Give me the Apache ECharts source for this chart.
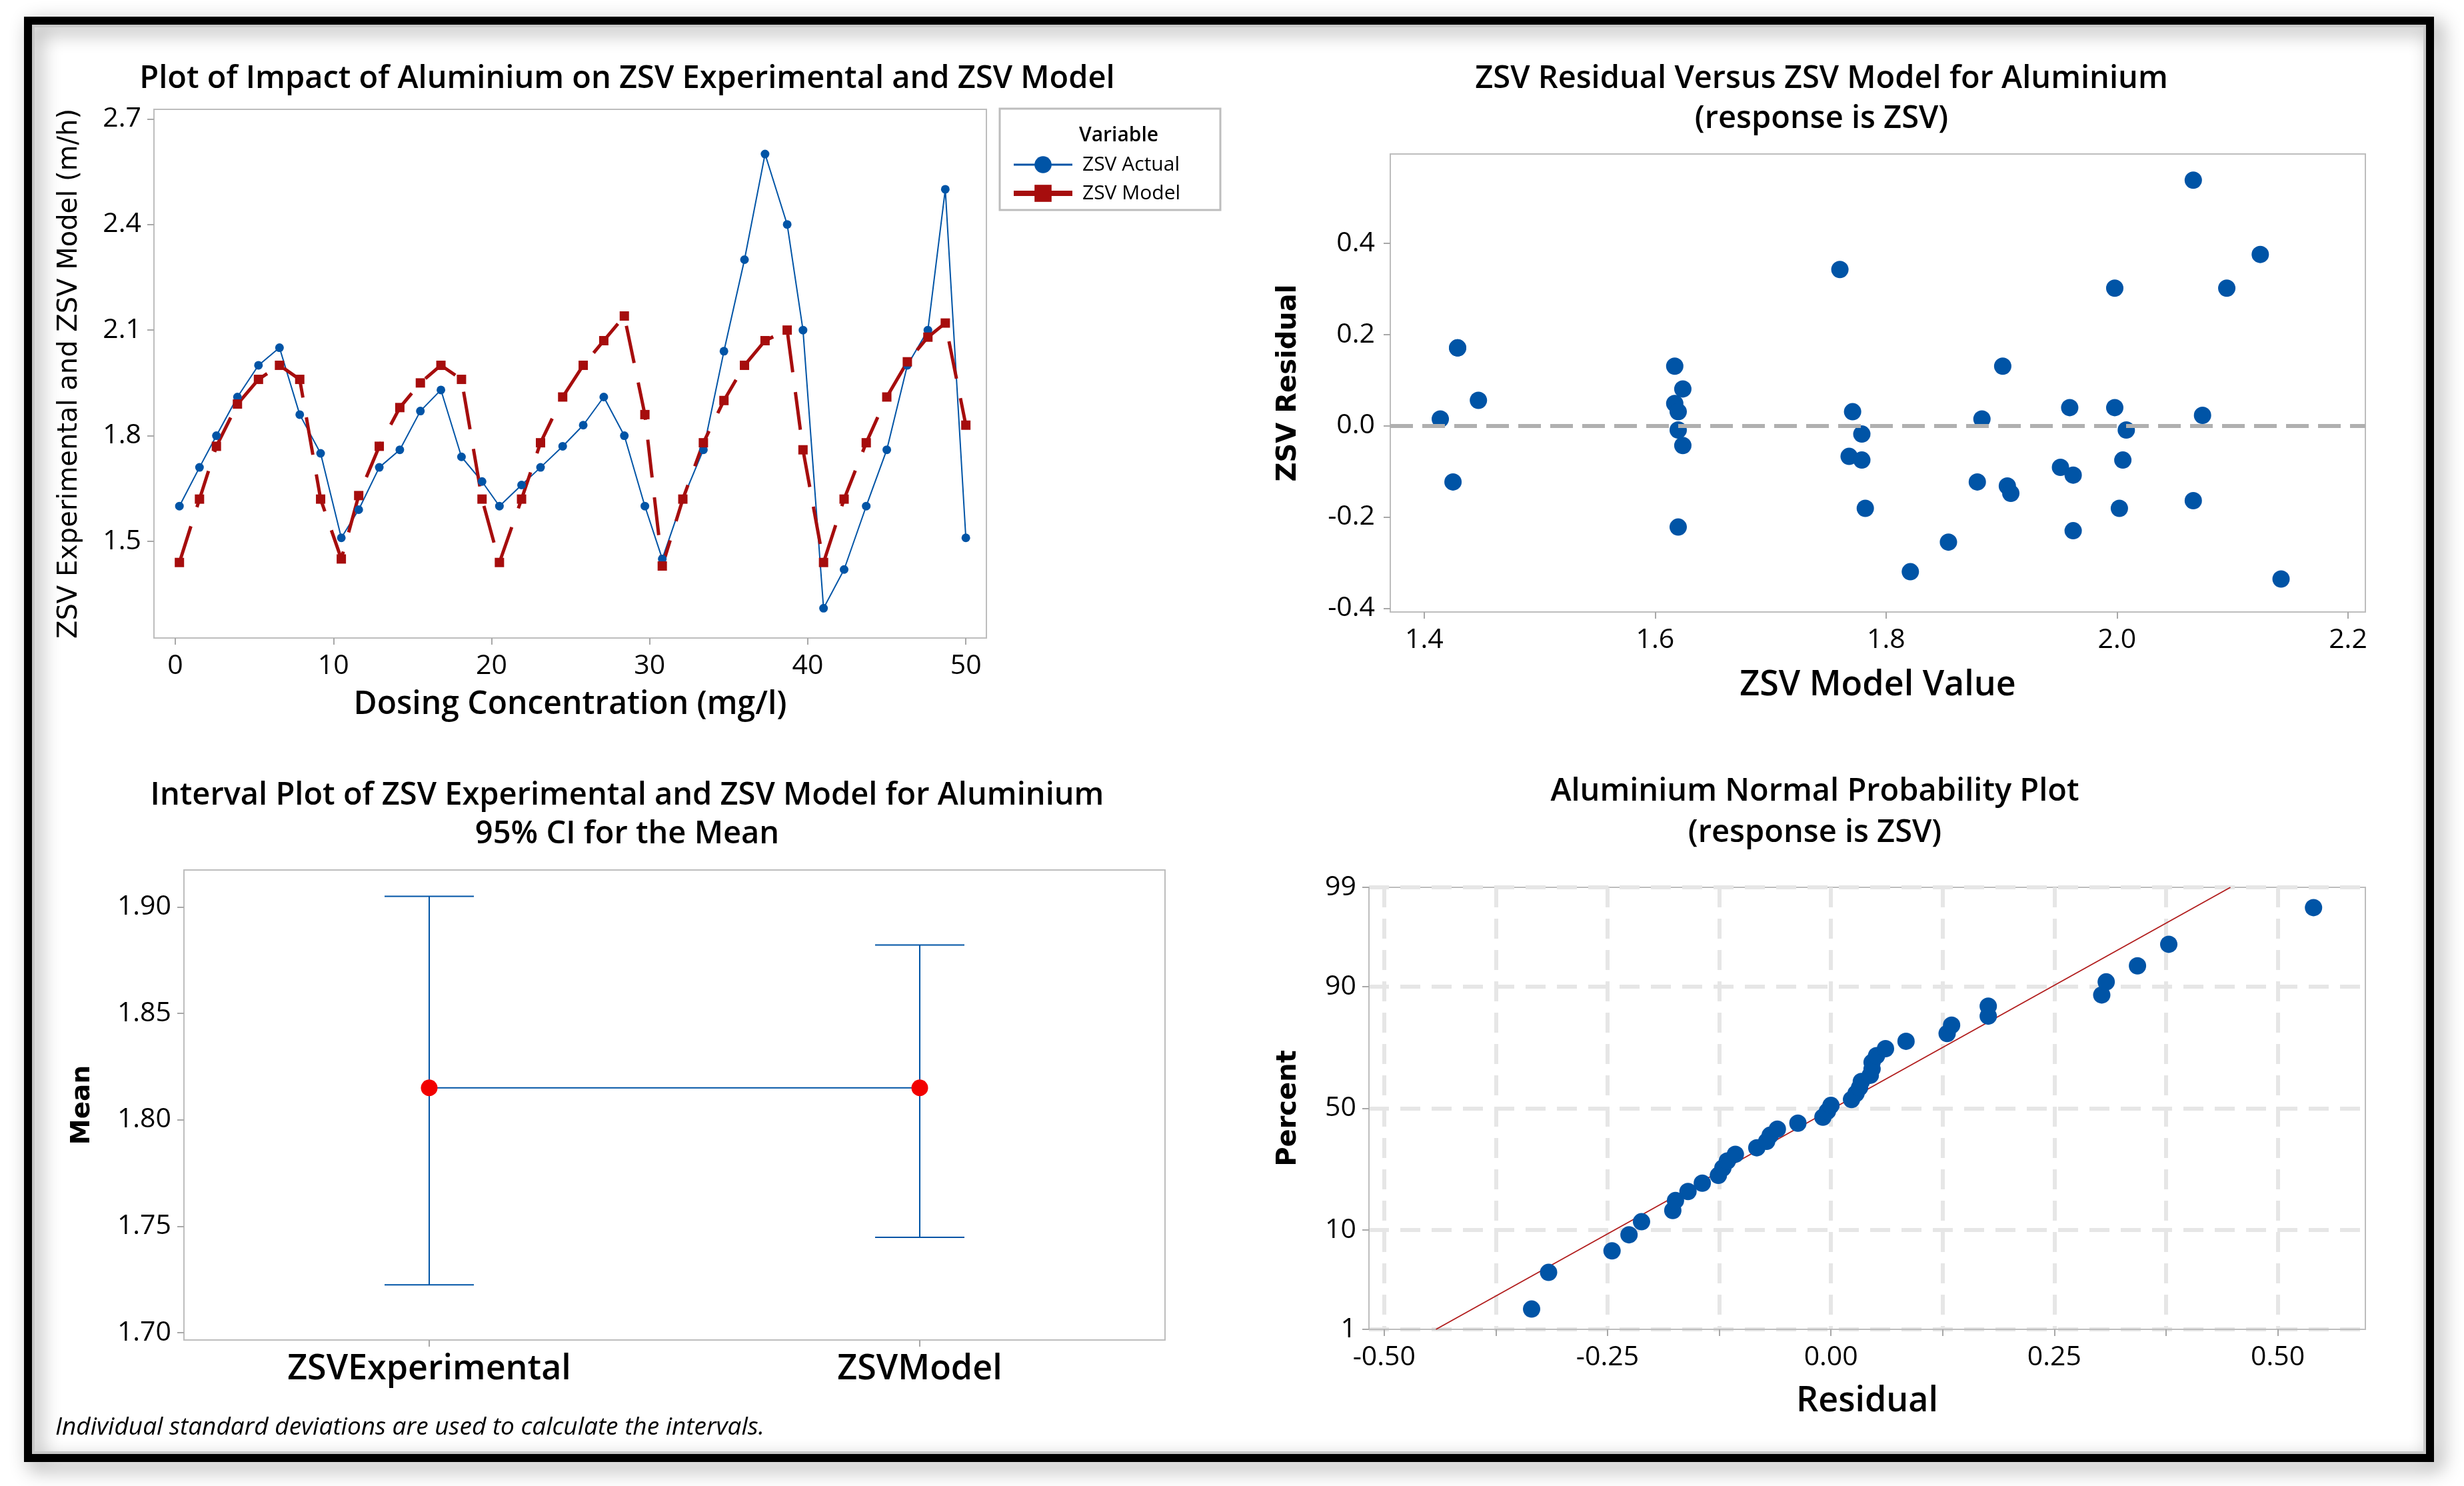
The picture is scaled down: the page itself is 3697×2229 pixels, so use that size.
<!DOCTYPE html>
<html>
<head>
<meta charset="utf-8">
<script src="https://cdn.jsdelivr.net/npm/echarts@6.0.0/dist/echarts.min.js"></script>
<style>
html, body { margin: 0; padding: 0; background: #fff; }
#main { width: 3697px; height: 2229px; }
</style>
</head>
<body>
<div id="main"></div>
<script>
// ---- data ----
var dose = [0.26, 1.53, 2.6, 3.93, 5.26, 6.59, 7.87, 9.19, 10.5, 11.6, 12.9, 14.2, 15.5, 16.8, 18.1, 19.4, 20.5, 21.9, 23.1, 24.5,
            25.8, 27.1, 28.4, 29.7, 30.8, 32.1, 33.4, 34.7, 36.0, 37.3, 38.7, 39.7, 41.0, 42.3, 43.7, 45.0, 46.3, 47.6, 48.7, 50.0];
var zsvActual = [1.60, 1.71, 1.80, 1.91, 2.00, 2.05, 1.86, 1.75, 1.51, 1.59, 1.71, 1.76, 1.87, 1.93, 1.74, 1.67, 1.60, 1.66, 1.71, 1.77,
                 1.83, 1.91, 1.80, 1.60, 1.45, 1.62, 1.76, 2.04, 2.30, 2.60, 2.40, 2.10, 1.31, 1.42, 1.60, 1.76, 2.00, 2.10, 2.50, 1.51];
var zsvModel = [1.44, 1.62, 1.77, 1.89, 1.96, 2.00, 1.96, 1.62, 1.45, 1.63, 1.77, 1.88, 1.95, 2.00, 1.96, 1.62, 1.44, 1.62, 1.78, 1.91,
                2.00, 2.07, 2.14, 1.86, 1.43, 1.62, 1.78, 1.90, 2.00, 2.07, 2.10, 1.76, 1.44, 1.62, 1.78, 1.91, 2.01, 2.08, 2.12, 1.83];

// residual versus fit
var fitValue = [1.414, 1.429, 1.429, 1.425, 1.447, 1.617, 1.617, 1.620, 1.624, 1.620, 1.624, 1.620, 1.760, 1.771, 1.768, 1.779,
                1.779, 1.782, 1.821, 1.854, 1.883, 1.879, 1.901, 1.905, 1.908, 1.951, 1.959, 1.962, 1.962, 1.998, 1.998, 2.002,
                2.005, 2.008, 2.066, 2.066, 2.074, 2.095, 2.124, 2.142];
var fitResid = [0.015, 0.171, 0.171, -0.123, 0.056, 0.131, 0.049, 0.031, 0.081, -0.009, -0.043, -0.222, 0.343, 0.031, -0.067, -0.018,
                -0.075, -0.181, -0.320, -0.255, 0.015, -0.123, 0.131, -0.132, -0.148, -0.091, 0.040, -0.108, -0.230, 0.302, 0.040, -0.181,
                -0.075, -0.009, 0.539, -0.164, 0.023, 0.302, 0.376, -0.336];

// interval plot
var intervalCats = ['ZSVExperimental', 'ZSVModel'];
var intervalMean = [1.815, 1.815];
var intervalLow = [1.7225, 1.7448];
var intervalHigh = [1.9049, 1.8821];

// normal probability plot
var probResid = [-0.335, -0.316, -0.245, -0.226, -0.212, -0.177, -0.174, -0.160, -0.144, -0.126, -0.121, -0.116, -0.107, -0.083,
                 -0.072, -0.068, -0.060, -0.037, -0.009, -0.004, 0.000, 0.023, 0.028, 0.032, 0.034, 0.044, 0.046, 0.046, 0.051, 0.061,
                 0.084, 0.130, 0.135, 0.176, 0.176, 0.303, 0.308, 0.343, 0.378, 0.540];
var probPct = [1.73, 4.21, 6.68, 9.16, 11.63, 14.11, 16.58, 19.06, 21.53, 24.01, 26.49, 28.96, 31.44, 33.91, 36.39, 38.86, 41.34,
               43.81, 46.29, 48.76, 51.24, 53.71, 56.19, 58.66, 61.14, 63.61, 66.09, 68.56, 71.04, 73.51, 75.99, 78.47, 80.94,
               83.42, 85.89, 88.37, 90.84, 93.32, 95.79, 98.27];
var probFitX = [-0.442, 0.447];
var probFitPct = [1, 99];

// tick labels
var doseTicks = [0, 10, 20, 30, 40, 50];
var zsvTicks = [1.5, 1.8, 2.1, 2.4, 2.7];
var fitTicks = [1.4, 1.6, 1.8, 2.0, 2.2];
var residTicks = [-0.4, -0.2, 0.0, 0.2, 0.4];
var meanTicks = [1.70, 1.75, 1.80, 1.85, 1.90];
var probXTicks = [-0.50, -0.25, 0.00, 0.25, 0.50];
var probXGrid = [-0.5, -0.375, -0.25, -0.125, 0, 0.125, 0.25, 0.375, 0.5];
var probTicks = [1, 10, 50, 90, 99];

// inverse normal cdf, used as the probability scale of the last plot
function probit(p) {
    var a = [-3.969683028665376e+01, 2.209460984245205e+02, -2.759285104469687e+02, 1.383577518672690e+02, -3.066479806614716e+01, 2.506628277459239e+00];
    var b = [-5.447609879822406e+01, 1.615858368580409e+02, -1.556989798598866e+02, 6.680131188771972e+01, -1.328068155288572e+01];
    var c = [-7.784894002430293e-03, -3.223964580411365e-01, -2.400758277161838e+00, -2.549732539343734e+00, 4.374664141464968e+00, 2.938163982698783e+00];
    var d = [7.784695709041462e-03, 3.224671290700398e-01, 2.445134137142996e+00, 3.754408661907416e+00];
    var pl = 0.02425, q, r;
    if (p < pl) {
        q = Math.sqrt(-2 * Math.log(p));
        return (((((c[0] * q + c[1]) * q + c[2]) * q + c[3]) * q + c[4]) * q + c[5]) / ((((d[0] * q + d[1]) * q + d[2]) * q + d[3]) * q + 1);
    }
    if (p > 1 - pl) {
        q = Math.sqrt(-2 * Math.log(1 - p));
        return -(((((c[0] * q + c[1]) * q + c[2]) * q + c[3]) * q + c[4]) * q + c[5]) / ((((d[0] * q + d[1]) * q + d[2]) * q + d[3]) * q + 1);
    }
    q = p - 0.5; r = q * q;
    return (((((a[0] * r + a[1]) * r + a[2]) * r + a[3]) * r + a[4]) * r + a[5]) * q / (((((b[0] * r + b[1]) * r + b[2]) * r + b[3]) * r + b[4]) * r + 1);
}
function z(pct) { return probit(pct / 100); }

var BLUE = '#0054a6', RED = '#a60d0d', BOX = '#bdbdbd', TICK = '#a8a8a8';
var SANS = '"Open Sans", "Noto Sans", sans-serif';
var WIDE = '"DejaVu Sans", Verdana, sans-serif';

function tickAxis(extra) {
    var base = {
        axisLine: { show: true, onZero: false, lineStyle: { color: BOX, width: 2 } },
        axisTick: { show: true, length: 10, lineStyle: { color: TICK, width: 2 } },
        axisLabel: { color: '#000', fontSize: 41, fontFamily: SANS, margin: 22 },
        splitLine: { show: false },
        nameTextStyle: { color: '#000', fontFamily: SANS, fontSize: 52, fontWeight: 600 }
    };
    return echarts.util.merge(base, extra, true);
}

function titleText(x, y, txt, lh) {
    return {
        type: 'text', x: x, y: y, silent: true,
        style: {
            text: txt, lineHeight: lh || 59,
            align: 'center', verticalAlign: 'middle', textAlign: 'center', textVerticalAlign: 'middle',
            fontSize: 47, fontWeight: 600, fontFamily: SANS, fill: '#000'
        }
    };
}

var chart = echarts.init(document.getElementById('main'), null, { renderer: 'canvas' });

var option = {
    animation: false,
    backgroundColor: '#fff',
    grid: [
        { left: 231, top: 164, width: 1249, height: 793, show: true, borderColor: BOX, borderWidth: 2, containLabel: false },
        { left: 2086, top: 231, width: 1463, height: 687, show: true, borderColor: BOX, borderWidth: 2, containLabel: false },
        { left: 276, top: 1305, width: 1472, height: 705, show: true, borderColor: BOX, borderWidth: 2, containLabel: false },
        { left: 2054, top: 1331, width: 1495, height: 663, show: true, borderColor: BOX, borderWidth: 2, containLabel: false }
    ],
    xAxis: [
        tickAxis({
            gridIndex: 0, type: 'value', min: -1.35, max: 51.3,
            axisTick: { customValues: doseTicks },
            axisLabel: { customValues: doseTicks },
            name: 'Dosing Concentration (mg/l)', nameLocation: 'middle', nameGap: 76,
            nameTextStyle: { fontSize: 48 }
        }),
        tickAxis({
            gridIndex: 1, type: 'value', min: 1.3707, max: 2.215,
            axisTick: { customValues: fitTicks },
            axisLabel: { customValues: fitTicks, formatter: function (v) { return v.toFixed(1); } },
            name: 'ZSV Model Value', nameLocation: 'middle', nameGap: 84
        }),
        tickAxis({
            gridIndex: 2, type: 'category', data: intervalCats, boundaryGap: true,
            axisTick: { alignWithLabel: true },
            axisLabel: { fontSize: 52, fontWeight: 600, margin: 18, interval: 0 }
        }),
        tickAxis({
            gridIndex: 3, type: 'value', min: -0.517, max: 0.598,
            axisTick: { customValues: probXGrid },
            axisLabel: { customValues: probXTicks, formatter: function (v) { return v.toFixed(2); } },
            splitLine: { show: true, lineStyle: { color: '#e6e6e6', width: 6, type: [30, 17] } },
            name: 'Residual', nameLocation: 'middle', nameGap: 82
        })
    ],
    yAxis: [
        tickAxis({
            gridIndex: 0, type: 'value', min: 1.2255, max: 2.727,
            axisTick: { customValues: zsvTicks },
            axisLabel: { customValues: zsvTicks, margin: 19, formatter: function (v) { return v.toFixed(1); } },
            name: 'ZSV Experimental and ZSV Model (m/h)', nameLocation: 'middle', nameGap: 106,
            nameTextStyle: { fontFamily: WIDE, fontSize: 40, fontWeight: 'normal' }
        }),
        tickAxis({
            gridIndex: 1, type: 'value', min: -0.4083, max: 0.5963,
            axisTick: { customValues: residTicks },
            axisLabel: { customValues: residTicks, margin: 23, formatter: function (v) { return v.toFixed(1); } },
            name: 'ZSV Residual', nameLocation: 'middle', nameGap: 132,
            nameTextStyle: { fontFamily: WIDE, fontSize: 40, fontWeight: 'bold' }
        }),
        tickAxis({
            gridIndex: 2, type: 'value', min: 1.6966, max: 1.9173,
            axisTick: { customValues: meanTicks },
            axisLabel: { customValues: meanTicks, margin: 19, formatter: function (v) { return v.toFixed(2); } },
            name: 'Mean', nameLocation: 'middle', nameGap: 133,
            nameTextStyle: { fontFamily: WIDE, fontSize: 39, fontWeight: 'bold' }
        }),
        tickAxis({
            gridIndex: 3, type: 'value', min: z(1), max: z(99),
            axisTick: { customValues: probTicks.map(z) },
            axisLabel: {
                customValues: probTicks.map(z), margin: 19,
                formatter: function (v) {
                    for (var i = 0; i < probTicks.length; i++) {
                        if (Math.abs(z(probTicks[i]) - v) < 1e-4) return String(probTicks[i]);
                    }
                    return '';
                }
            },
            splitLine: { show: true, lineStyle: { color: '#e6e6e6', width: 6, type: [30, 17] } },
            name: 'Percent', nameLocation: 'middle', nameGap: 100,
            nameTextStyle: { fontFamily: WIDE, fontSize: 40, fontWeight: 'bold' }
        })
    ],
    legend: {
        left: 1512, top: 227, orient: 'vertical',
        itemWidth: 88, itemHeight: 32, itemGap: 13,
        textStyle: { color: '#000', fontSize: 30, fontFamily: SANS, padding: [0, 0, 0, 10] },
        data: [
            { name: 'ZSV Actual', lineStyle: { width: 3, type: 'solid' } },
            { name: 'ZSV Model', lineStyle: { width: 8, type: 'solid' } }
        ]
    },
    series: [
        {
            name: 'ZSV Actual', type: 'line', xAxisIndex: 0, yAxisIndex: 0,
            data: dose.map(function (x, i) { return [x, zsvActual[i]]; }),
            symbol: 'circle', symbolSize: 13,
            lineStyle: { color: BLUE, width: 2 },
            itemStyle: { color: BLUE }
        },
        {
            name: 'ZSV Model', type: 'line', xAxisIndex: 0, yAxisIndex: 0,
            data: dose.map(function (x, i) { return [x, zsvModel[i]]; }),
            symbol: 'rect', symbolSize: 14,
            lineStyle: { color: RED, width: 5, type: [57, 30] },
            itemStyle: { color: RED }
        },
        {
            name: 'resid', type: 'scatter', xAxisIndex: 1, yAxisIndex: 1,
            data: fitValue.map(function (x, i) { return [x, fitResid[i]]; }),
            symbolSize: 26, itemStyle: { color: BLUE, opacity: 1 },
            markLine: {
                silent: true, symbol: 'none', label: { show: false },
                lineStyle: { color: '#b0b0b0', width: 6, type: [34, 14] },
                data: [{ yAxis: 0 }]
            },
            z: 3
        },
        {
            name: 'ci', type: 'custom', xAxisIndex: 2, yAxisIndex: 2,
            data: intervalCats.map(function (c, i) { return [i, intervalLow[i], intervalHigh[i]]; }),
            renderItem: function (params, api) {
                var lo = api.coord([api.value(0), api.value(1)]);
                var hi = api.coord([api.value(0), api.value(2)]);
                var hw = 67;
                var st = { stroke: BLUE, lineWidth: 2 };
                return {
                    type: 'group',
                    children: [
                        { type: 'line', shape: { x1: lo[0], y1: lo[1], x2: hi[0], y2: hi[1] }, style: st },
                        { type: 'line', shape: { x1: hi[0] - hw, y1: hi[1], x2: hi[0] + hw, y2: hi[1] }, style: st },
                        { type: 'line', shape: { x1: lo[0] - hw, y1: lo[1], x2: lo[0] + hw, y2: lo[1] }, style: st }
                    ]
                };
            }
        },
        {
            name: 'meanline', type: 'line', xAxisIndex: 2, yAxisIndex: 2,
            data: intervalMean, symbol: 'none',
            lineStyle: { color: BLUE, width: 2 }
        },
        {
            name: 'means', type: 'scatter', xAxisIndex: 2, yAxisIndex: 2,
            data: intervalMean, symbolSize: 25,
            itemStyle: { color: '#f20000', opacity: 1 }, z: 4
        },
        {
            name: 'fit', type: 'line', xAxisIndex: 3, yAxisIndex: 3,
            data: probFitX.map(function (x, i) { return [x, z(probFitPct[i])]; }),
            symbol: 'none', lineStyle: { color: '#b21e1e', width: 2 }
        },
        {
            name: 'prob', type: 'scatter', xAxisIndex: 3, yAxisIndex: 3,
            data: probResid.map(function (x, i) { return [x, z(probPct[i])]; }),
            symbolSize: 26, itemStyle: { color: BLUE, opacity: 1 }, z: 4
        }
    ],
    graphic: [
        // frame with drop shadow
        {
            type: 'rect', z: -10, silent: true,
            shape: { x: 42, y: 31, width: 3604, height: 2156 },
            style: { fill: 'none', stroke: '#000', lineWidth: 12, shadowBlur: 30, shadowColor: 'rgba(0,0,0,0.45)', shadowOffsetX: 10, shadowOffsetY: 10 }
        },
        {
            type: 'rect', z: -10, silent: true,
            shape: { x: 50, y: 39, width: 3588, height: 2140 },
            style: { fill: 'none', stroke: '#c8c8c8', lineWidth: 4 }
        },
        // titles
        titleText(941, 119, 'Plot of Impact of Aluminium on ZSV Experimental and ZSV Model'),
        titleText(2733, 149, 'ZSV Residual Versus ZSV Model for Aluminium\n(response is ZSV)', 60),
        titleText(941, 1223, 'Interval Plot of ZSV Experimental and ZSV Model for Aluminium\n95% CI for the Mean', 58),
        titleText(2723, 1219, 'Aluminium Normal Probability Plot\n(response is ZSV)', 62),
        // legend box and header
        {
            type: 'rect', silent: true,
            shape: { x: 1500, y: 163, width: 331, height: 152 },
            style: { fill: 'none', stroke: BOX, lineWidth: 3 }
        },
        {
            type: 'text', x: 1619, y: 203, silent: true,
            style: { text: 'Variable', align: 'left', verticalAlign: 'middle', textAlign: 'left', textVerticalAlign: 'middle', fontSize: 30, fontWeight: 600, fontFamily: SANS, fill: '#000' }
        },
        // footnote
        {
            type: 'text', x: 83, y: 2141, silent: true,
            style: { text: 'Individual standard deviations are used to calculate the intervals.', align: 'left', verticalAlign: 'middle', textAlign: 'left', textVerticalAlign: 'middle', fontSize: 37, fontStyle: 'italic', fontFamily: SANS, fill: '#000' }
        }
    ]
};

chart.setOption(option);
</script>
</body>
</html>
